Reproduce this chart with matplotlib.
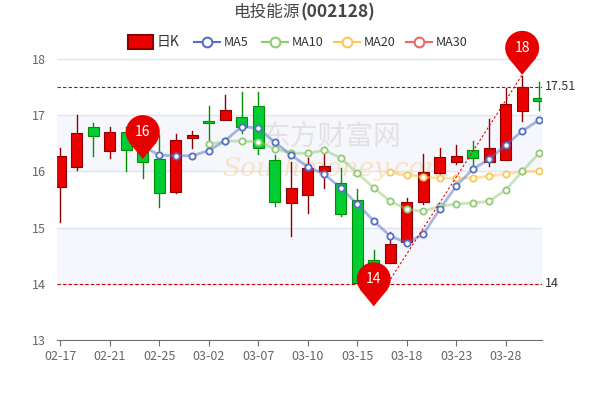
import matplotlib
matplotlib.use("Agg")
import matplotlib.pyplot as plt
from matplotlib.patches import Rectangle, Polygon, Ellipse
import numpy as np

plt.rcParams['font.family'] = ['Noto Sans CJK SC', 'DejaVu Sans']

dates = ["02-17","02-18","02-20","02-21","02-22","02-24","02-25","02-27","02-28","03-02",
         "03-03","03-06","03-07","03-08","03-09","03-10","03-13","03-14","03-15","03-16",
         "03-17","03-18","03-20","03-21","03-23","03-24","03-27","03-28","03-29","03-30"]
opens  = [15.73,16.08,16.79,16.36,16.70,16.60,16.22,15.63,16.60,16.90,16.91,16.97,17.16,16.20,15.44,
          15.58,16.00,15.80,15.49,14.42,14.37,14.74,15.46,15.97,16.17,16.38,16.17,16.20,17.07,17.31]
closes = [16.27,16.68,16.63,16.70,16.38,16.17,15.62,16.56,16.65,16.86,17.09,16.80,16.42,15.46,15.70,
          16.06,16.10,15.24,14.01,14.35,14.71,15.46,15.99,16.26,16.27,16.24,16.42,17.20,17.50,17.25]
highs  = [16.42,17.00,16.86,16.80,16.80,16.95,16.65,16.67,16.72,17.16,17.36,17.41,17.41,16.30,16.17,
          16.24,16.43,16.06,15.69,14.60,14.92,15.53,16.31,16.42,16.47,16.54,16.93,17.48,17.70,17.60]
lows   = [15.10,16.02,16.27,16.24,16.00,15.88,15.37,15.62,16.42,16.56,17.09,16.68,16.31,15.38,14.85,
          15.26,15.70,15.20,14.01,14.30,14.37,14.70,15.42,15.95,16.14,16.10,16.10,16.20,16.90,17.10]
ma5  = [None]*5 + [16.45,16.29,16.28,16.28,16.37,16.55,16.80,16.77,16.52,16.29,16.08,15.95,15.71,15.42,
                   15.12,14.85,14.73,14.88,15.33,15.74,16.04,16.22,16.47,16.72,16.91]
ma10 = [None]*9 + [16.48,16.54,16.54,16.53,16.40,16.33,16.32,16.38,16.24,15.97,15.71,15.47,15.33,15.29,
                   15.38,15.42,15.44,15.47,15.67,16.00,16.32]
ma20 = [None]*20 + [15.99,15.94,15.90,15.88,15.88,15.88,15.92,15.95,16.00,16.00]
yticks = [13,14,15,16,17,18]
hi_line, lo_line = 17.51, 14.0

fig = plt.figure(figsize=(6,4), dpi=100)
ax = fig.add_axes([57/600, 60/400, 485/600, 309/400])
n = len(dates)
x = np.arange(n)
ax.set_xlim(-0.2, n-0.8)
ax.set_ylim(13, 18.5)

for b in (14, 16):
    ax.axhspan(b, b+1, color='#F6F7FC', zorder=0)
for t in yticks:
    ax.axhline(t, color='#E0E6F1', lw=1, zorder=0.5)

red, green = '#EB0000', '#00CC33'
for i in x:
    o, c, h, l = opens[i], closes[i], highs[i], lows[i]
    up = c >= o
    col = red if up else green
    wc = '#8B0000' if up else '#008F00'
    ax.plot([i, i], [l, h], color=wc, lw=1, zorder=2)
    ax.add_patch(Rectangle((i-0.33, min(o, c)), 0.66, max(abs(c-o), 0.03),
                           facecolor=col, edgecolor=wc, lw=0.8, zorder=3))

def ma_plot(vals, lc, mc):
    xs = [i for i, v in enumerate(vals) if v is not None]
    ys = [v for v in vals if v is not None]
    ax.plot(xs, ys, color=lc, lw=2, alpha=0.5, zorder=4)
    ax.plot(xs, ys, 'o', ms=4.5, mfc='white', mec=mc, mew=1.3, zorder=5)

ma_plot(ma20, '#FAC858', '#FAC858')
ma_plot(ma10, '#91CC75', '#91CC75')
ma_plot(ma5, '#5470C6', '#5470C6')

ax.axhline(hi_line, color='#CC0000', lw=0.8, ls=(0, (3, 2)), zorder=6)
ax.axhline(lo_line, color='#CC0000', lw=0.8, ls=(0, (3, 2)), zorder=6)
ax.text(n-0.6, hi_line, f'{hi_line:.2f}', va='center', ha='left', fontsize=9, color='#333333')
ax.text(n-0.6, lo_line, f'{lo_line:g}', va='center', ha='left', fontsize=9, color='#333333')
ax.plot([19, 28], [13.62, 17.72], color='#EE0000', lw=0.8, ls=(0, (2, 2)), zorder=6)

ax.text(12.2, 16.6, '东方财富网', fontsize=20, color='#DDDDDD', alpha=0.8, zorder=1, ha='left', va='center')
ax.text(9.8, 16.05, 'Southmoney.com', fontsize=19, color='#F8DDB8', alpha=0.8, zorder=1,
        ha='left', va='center', style='italic', family='DejaVu Serif')

def pin(xi, tip_y, label):
    trans = ax.transData
    px, py = trans.transform((xi, tip_y))
    inv = trans.inverted()
    cx, cy = px, py + 27
    r = 17
    tri = [inv.transform((cx-14, cy-10)), inv.transform((cx+14, cy-10)), inv.transform((px, py))]
    ax.add_patch(Polygon(tri, closed=True, facecolor='#E60000', edgecolor='none', zorder=8, clip_on=False))
    w, _ = inv.transform((cx + r, cy)) - inv.transform((cx - r, cy))
    _, hgt = inv.transform((cx, cy + r)) - inv.transform((cx, cy - r))
    ccx, ccy = inv.transform((cx, cy))
    ax.add_patch(Ellipse((ccx, ccy), w, hgt, facecolor='#E60000', edgecolor='none', zorder=8, clip_on=False))
    ax.text(ccx, ccy, label, color='white', ha='center', va='center', fontsize=10, zorder=9)

pin(5, 16.22, '16')
pin(19, 13.6, '14')
pin(28, 17.72, '18')

ax.set_yticks(yticks)
ax.set_xticks(x[::3])
ax.set_xticklabels(dates[::3])
ax.tick_params(axis='y', length=0, labelsize=9, labelcolor='#666666', pad=8)
ax.tick_params(axis='x', length=4, color='#6E7079', labelsize=9, labelcolor='#666666')
for s in ['top', 'right', 'left']:
    ax.spines[s].set_visible(False)
ax.spines['bottom'].set_position(('data', 13))
ax.spines['bottom'].set_color('#6E7079')

fig.text(0.5, 0.968, '电投能源', ha='right', va='center', fontsize=12, color='#464646')
fig.text(0.5, 0.968, '(002128)', ha='left', va='center', fontsize=12.5, color='#464646', fontweight='bold')

ly = 1 - 42/400
fig.patches.append(Rectangle((128/600, ly-7/400), 25/600, 14/400, transform=fig.transFigure,
                             facecolor=red, edgecolor='#8B0000', lw=1.5))
fig.text(157/600, ly, '日K', va='center', ha='left', fontsize=10, color='#333333')
items = [('MA5', '#5470C6', 194), ('MA10', '#91CC75', 262), ('MA20', '#FAC858', 334), ('MA30', '#EE6666', 406)]
for name, colr, lx in items:
    fig.lines.append(plt.Line2D([lx/600, (lx+26)/600], [ly, ly], transform=fig.transFigure, color=colr, lw=1.5))
    fig.lines.append(plt.Line2D([(lx+13)/600], [ly], transform=fig.transFigure, marker='o', ms=7,
                                mfc='white', mec=colr, mew=1.5))
    fig.text((lx+30)/600, ly, name, va='center', ha='left', fontsize=9, color='#333333')

fig.savefig('out.png', dpi=100, facecolor='white')
